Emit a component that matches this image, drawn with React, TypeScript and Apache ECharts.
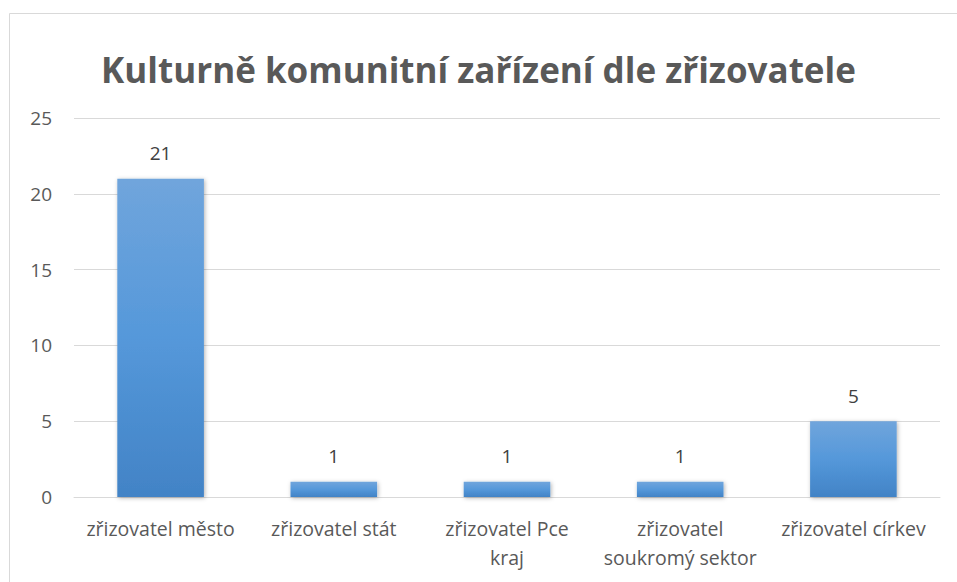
import React, { useEffect, useRef } from "react";
import * as echarts from "echarts";

const titleText = "Kulturně komunitní zařízení dle zřizovatele";
const categories = [
  "zřizovatel město",
  "zřizovatel stát",
  "zřizovatel Pce\nkraj",
  "zřizovatel\nsoukromý sektor",
  "zřizovatel církev",
];
const values = [21, 1, 1, 1, 5];
const yMin = 0;
const yMax = 25;
const yStep = 5;

export default function App() {
  const ref = useRef<HTMLDivElement>(null);
  useEffect(() => {
    if (!ref.current) return;
    const chart = echarts.init(ref.current, null, { renderer: "svg" });
    const font = "'Open Sans', 'Noto Sans', sans-serif";
    chart.setOption({
      animation: false,
      backgroundColor: "#ffffff",
      graphic: [
        {
          type: "rect",
          shape: { x: 9.5, y: 13.5, width: 1000, height: 1000 },
          style: { fill: "none", stroke: "#d9d9d9", lineWidth: 1 },
          silent: true,
        },
      ],
      title: {
        text: titleText,
        left: "center",
        top: 47,
        textStyle: {
          fontFamily: font,
          fontWeight: "bold",
          fontSize: 35,
          color: "#595959",
        },
      },
      grid: { left: 74, right: 17, top: 118, bottom: 85, containLabel: false },
      xAxis: {
        type: "category",
        data: categories,
        axisTick: { show: false },
        axisLine: { show: true, lineStyle: { color: "#d9d9d9", width: 1 } },
        axisLabel: {
          fontFamily: font,
          fontSize: 19.5,
          color: "#595959",
          margin: 17,
          lineHeight: 29,
          interval: 0,
        },
      },
      yAxis: {
        type: "value",
        min: yMin,
        max: yMax,
        interval: yStep,
        axisLine: { show: false },
        axisTick: { show: false },
        splitLine: { lineStyle: { color: "#d9d9d9", width: 1 } },
        axisLabel: {
          fontFamily: font,
          fontSize: 19,
          color: "#595959",
          margin: 22,
        },
      },
      series: [
        {
          type: "bar",
          data: values,
          barWidth: "50%",
          itemStyle: {
            color: new echarts.graphic.LinearGradient(0, 0, 0, 1, [
              { offset: 0, color: "#70a5dc" },
              { offset: 0.5, color: "#5598da" },
              { offset: 1, color: "#4283c6" },
            ]),
            shadowBlur: 4,
            shadowColor: "rgba(0,0,0,0.3)",
            shadowOffsetX: 1,
            shadowOffsetY: 1,
          },
          label: {
            show: true,
            position: "top",
            distance: 16,
            fontFamily: font,
            fontSize: 19,
            color: "#404040",
          },
        },
      ],
    });
    return () => chart.dispose();
  }, []);
  return (
    <div
      ref={ref}
      style={{ position: "absolute", left: 0, top: 0, width: 957, height: 582 }}
    />
  );
}
